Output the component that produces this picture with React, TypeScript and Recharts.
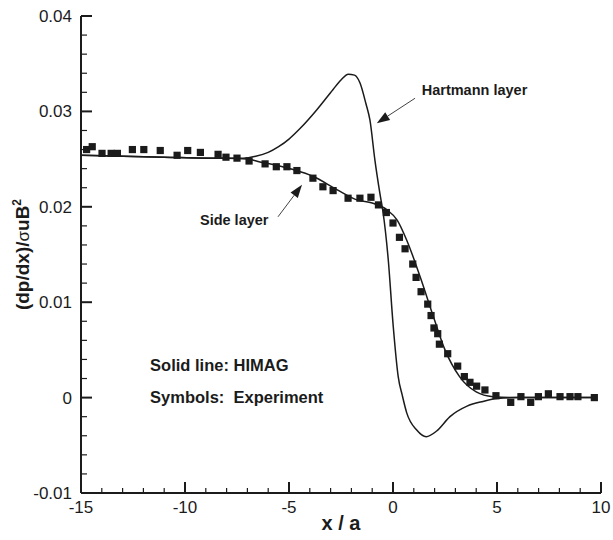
import React from "react";
import {
  ComposedChart,
  Line,
  Scatter,
  XAxis,
  YAxis,
  ReferenceLine,
  ReferenceDot,
} from "recharts";

const FONT = '"Liberation Sans", Arial, Helvetica, sans-serif';
const INK = "#1b1b1b";

// HIMAG, curve that follows the experiment (side layer)
const sideX = [-15, -13, -11, -9, -8, -7, -6.4, -5.5, -4.8, -3.85, -2.7, -1.7, -1, -0.3, 0.2, 0.66, 1.3, 1.94, 2.5, 3.2, 4.0, 4.8, 6, 8, 9.7];
const sideY = [0.0254, 0.0253, 0.0252, 0.0251, 0.0251, 0.025, 0.0247, 0.0243, 0.0239, 0.0232, 0.0218, 0.0207, 0.0204, 0.0197, 0.0186, 0.0165, 0.0127, 0.0085, 0.005, 0.0022, 0.0006, 0.0001, 0, 0, 0];

// HIMAG, curve with the Hartmann layer overshoot
const hartX = [-15, -11, -8, -7.2, -6.6, -6, -5.5, -5, -4.47, -3.65, -2.88, -2.5, -2.15, -1.85, -1.59, -1.3, -1.11, -0.87, -0.63, -0.47, -0.23, 0.01, 0.25, 0.45, 0.66, 1.14, 1.6, 2.1, 2.74, 3.56, 4.33, 5, 6, 8, 9.7];
const hartY = [0.0254, 0.0252, 0.0251, 0.0251, 0.0253, 0.0257, 0.0263, 0.0271, 0.0282, 0.0302, 0.0323, 0.0333, 0.0339, 0.0338, 0.033, 0.0308, 0.0291, 0.0249, 0.0214, 0.0193, 0.0145, 0.0075, 0.0022, 0.0002, -0.0016, -0.0034, -0.0041, -0.0035, -0.002, -0.0009, -0.0004, -0.0001, 0, 0, 0];

// experiment symbols
const expX = [-14.73, -14.46, -13.99, -13.55, -13.25, -12.53, -11.98, -11.19, -10.38, -9.87, -9.26, -8.41, -8.03, -7.5, -6.92, -6.15, -5.61, -5.1, -4.62, -3.85, -3.37, -2.88, -2.16, -1.59, -1.06, -0.7, -0.32, 0.0, 0.31, 0.58, 0.95, 1.11, 1.35, 1.67, 1.83, 1.97, 2.15, 2.23, 2.63, 3.11, 3.43, 3.7, 4.02, 4.42, 4.95, 5.66, 6.15, 6.62, 6.99, 7.47, 8.03, 8.51, 8.89, 9.68];
const expY = [0.026, 0.0263, 0.0256, 0.0256, 0.0256, 0.026, 0.026, 0.0259, 0.0254, 0.0259, 0.0257, 0.0255, 0.0252, 0.0251, 0.0248, 0.0245, 0.0242, 0.0242, 0.0238, 0.023, 0.0221, 0.0217, 0.0209, 0.0209, 0.021, 0.0202, 0.0194, 0.0183, 0.0168, 0.0156, 0.014, 0.0126, 0.0111, 0.0098, 0.0086, 0.0073, 0.0067, 0.0056, 0.0046, 0.0033, 0.0022, 0.0016, 0.0012, 0.0008, 0.0002, -0.0005, 0.0001, -0.0005, 0.0001, 0.0004, 0.0001, 0.0001, 0.0001, 0.0];

const xMajor = [-15, -10, -5, 0, 5, 10];
const xLabels = ["-15", "-10", "-5", "0", "5", "10"];
const yMajor = [-0.01, 0, 0.01, 0.02, 0.03, 0.04];
const yLabels = ["-0.01", "0", "0.01", "0.02", "0.03", "0.04"];

const X_DOMAIN: [number, number] = [-15, 10];
const Y_DOMAIN: [number, number] = [-0.01, 0.04];

// minor ticks: every 1 on x, every 0.002 on y
const xTicks = Array.from({ length: 26 }, (_, i) => -15 + i);
const yTicks = Array.from({ length: 26 }, (_, i) => Number((-0.01 + 0.002 * i).toFixed(4)));

const sideData = sideX.map((x, i) => ({ x, y: sideY[i] }));
const hartData = hartX.map((x, i) => ({ x, y: hartY[i] }));
const expData = expX.map((x, i) => ({ x, y: expY[i] }));

const notes = [
  { x: 1.38, y: 0.03173, text: "Hartmann layer", size: 14.5 },
  { x: -9.28, y: 0.01804, text: "Side layer", size: 14.5 },
  { x: -11.68, y: 0.00283, text: "Solid line: HIMAG", size: 16.5 },
  { x: -11.68, y: -0.00052, text: "Symbols:  Experiment", size: 16.5 },
];

const arrows = [
  { from: { x: 1.06, y: 0.03138 }, to: { x: -0.78, y: 0.02876 } },
  { from: { x: -5.53, y: 0.01895 }, to: { x: -4.375, y: 0.0223 } },
];

const isMajorX = (v: number) => xMajor.indexOf(v) >= 0;
const isMajorY = (v: number) => yMajor.some((m) => Math.abs(m - v) < 1e-9);

// tick mark lengths as a fraction of each axis span (plot is 520 x 477 px)
const xSpan = X_DOMAIN[1] - X_DOMAIN[0];
const ySpan = Y_DOMAIN[1] - Y_DOMAIN[0];
const xTickLen = (major: boolean) => ((major ? 11 : 5) / 477) * ySpan;
const yTickLen = (major: boolean) => ((major ? 11 : 6) / 520) * xSpan;

function XTick(props: any) {
  const { x, y, payload } = props;
  const i = xMajor.indexOf(payload.value);
  if (i < 0) return <g />;
  return (
    <text x={x} y={Number(y) + 20} textAnchor="middle" fontSize={17} fontFamily={FONT} fill={INK}>
      {xLabels[i]}
    </text>
  );
}

function YTick(props: any) {
  const { x, y, payload } = props;
  const i = yMajor.findIndex((m) => Math.abs(m - payload.value) < 1e-9);
  if (i < 0) return <g />;
  return (
    <text x={Number(x) - 9} y={Number(y) + 6} textAnchor="end" fontSize={17} fontFamily={FONT} fill={INK}>
      {yLabels[i]}
    </text>
  );
}

function YTitle(props: any) {
  const vb = props.viewBox;
  const cx = vb.x + 29;
  const cy = vb.y + vb.height / 2;
  return (
    <text
      x={cx}
      y={cy}
      transform={`rotate(-90 ${cx} ${cy})`}
      textAnchor="middle"
      fontFamily={FONT}
      fontSize={19}
      fontWeight="bold"
      fill={INK}
    >
      (dp/dx)/
      <tspan fontWeight="normal" fontSize={17}>σ</tspan>
      uB
      <tspan fontSize={12} dy={-8}>2</tspan>
    </text>
  );
}

function XTitle(props: any) {
  const vb = props.viewBox;
  return (
    <text
      x={vb.x + vb.width / 2}
      y={vb.y + 37}
      textAnchor="middle"
      fontFamily={FONT}
      fontSize={20}
      fontWeight="bold"
      fill={INK}
    >
      x / a
    </text>
  );
}

function Arrow(props: any) {
  const { x1, y1, x2, y2 } = props;
  const dx = x2 - x1;
  const dy = y2 - y1;
  const len = Math.sqrt(dx * dx + dy * dy);
  const ux = dx / len;
  const uy = dy / len;
  const hl = 13;
  const hw = 4.5;
  const bx = x2 - ux * hl;
  const by = y2 - uy * hl;
  return (
    <g>
      <line x1={x1} y1={y1} x2={bx} y2={by} stroke="#444" strokeWidth={1} />
      <polygon
        points={`${x2},${y2} ${bx - uy * hw},${by + ux * hw} ${bx + uy * hw},${by - ux * hw}`}
        fill={INK}
      />
    </g>
  );
}

function Square(props: any) {
  const { cx, cy } = props;
  return <rect x={cx - 3.6} y={cy - 3.6} width={7.2} height={7.2} fill={INK} />;
}

export default function App() {
  return (
    <div style={{ position: "absolute", left: 0, top: 0, background: "#fff" }}>
      <ComposedChart width={613} height={540} margin={{ top: 16, right: 12, bottom: 0, left: 0 }}>
        <XAxis
          type="number"
          dataKey="x"
          domain={X_DOMAIN}
          ticks={xTicks}
          interval={0}
          allowDataOverflow
          height={47}
          tickSize={0}
          tickMargin={0}
          tickLine={false}
          axisLine={{ stroke: INK, strokeWidth: 2 }}
          tick={<XTick />}
          label={<XTitle />}
        />
        <YAxis
          type="number"
          dataKey="y"
          domain={Y_DOMAIN}
          ticks={yTicks}
          interval={0}
          allowDataOverflow
          width={81}
          tickSize={0}
          tickMargin={0}
          tickLine={false}
          axisLine={{ stroke: INK, strokeWidth: 2 }}
          tick={<YTick />}
          label={<YTitle />}
        />
        {/* inward tick marks */}
        {xTicks.map((v) => (
          <ReferenceLine
            key={`xt-${v}`}
            segment={[
              { x: v, y: Y_DOMAIN[0] },
              { x: v, y: Y_DOMAIN[0] + xTickLen(isMajorX(v)) },
            ]}
            stroke={INK}
            strokeWidth={isMajorX(v) ? 2 : 1.2}
            ifOverflow="visible"
          />
        ))}
        {yTicks.map((v) => (
          <ReferenceLine
            key={`yt-${v}`}
            segment={[
              { x: X_DOMAIN[0], y: v },
              { x: X_DOMAIN[0] + yTickLen(isMajorY(v)), y: v },
            ]}
            stroke={INK}
            strokeWidth={isMajorY(v) ? 2 : 1.2}
            ifOverflow="visible"
          />
        ))}
        <Line
          data={sideData}
          dataKey="y"
          type="monotone"
          dot={false}
          stroke={INK}
          strokeWidth={1.5}
          isAnimationActive={false}
        />
        <Line
          data={hartData}
          dataKey="y"
          type="monotone"
          dot={false}
          stroke={INK}
          strokeWidth={1.5}
          isAnimationActive={false}
        />
        <Scatter data={expData} dataKey="y" shape={<Square />} isAnimationActive={false} />
        {arrows.map((a, i) => (
          <ReferenceLine
            key={`arrow-${i}`}
            segment={[a.from, a.to]}
            shape={<Arrow />}
            ifOverflow="visible"
          />
        ))}
        {notes.map((n, i) => (
          <ReferenceDot
            key={`note-${i}`}
            x={n.x}
            y={n.y}
            r={0}
            ifOverflow="visible"
            shape={(p: any) => (
              <text
                x={p.cx}
                y={p.cy}
                fontFamily={FONT}
                fontSize={n.size}
                fontWeight="bold"
                fill={INK}
                style={{ whiteSpace: "pre" }}
              >
                {n.text}
              </text>
            )}
          />
        ))}
      </ComposedChart>
    </div>
  );
}
